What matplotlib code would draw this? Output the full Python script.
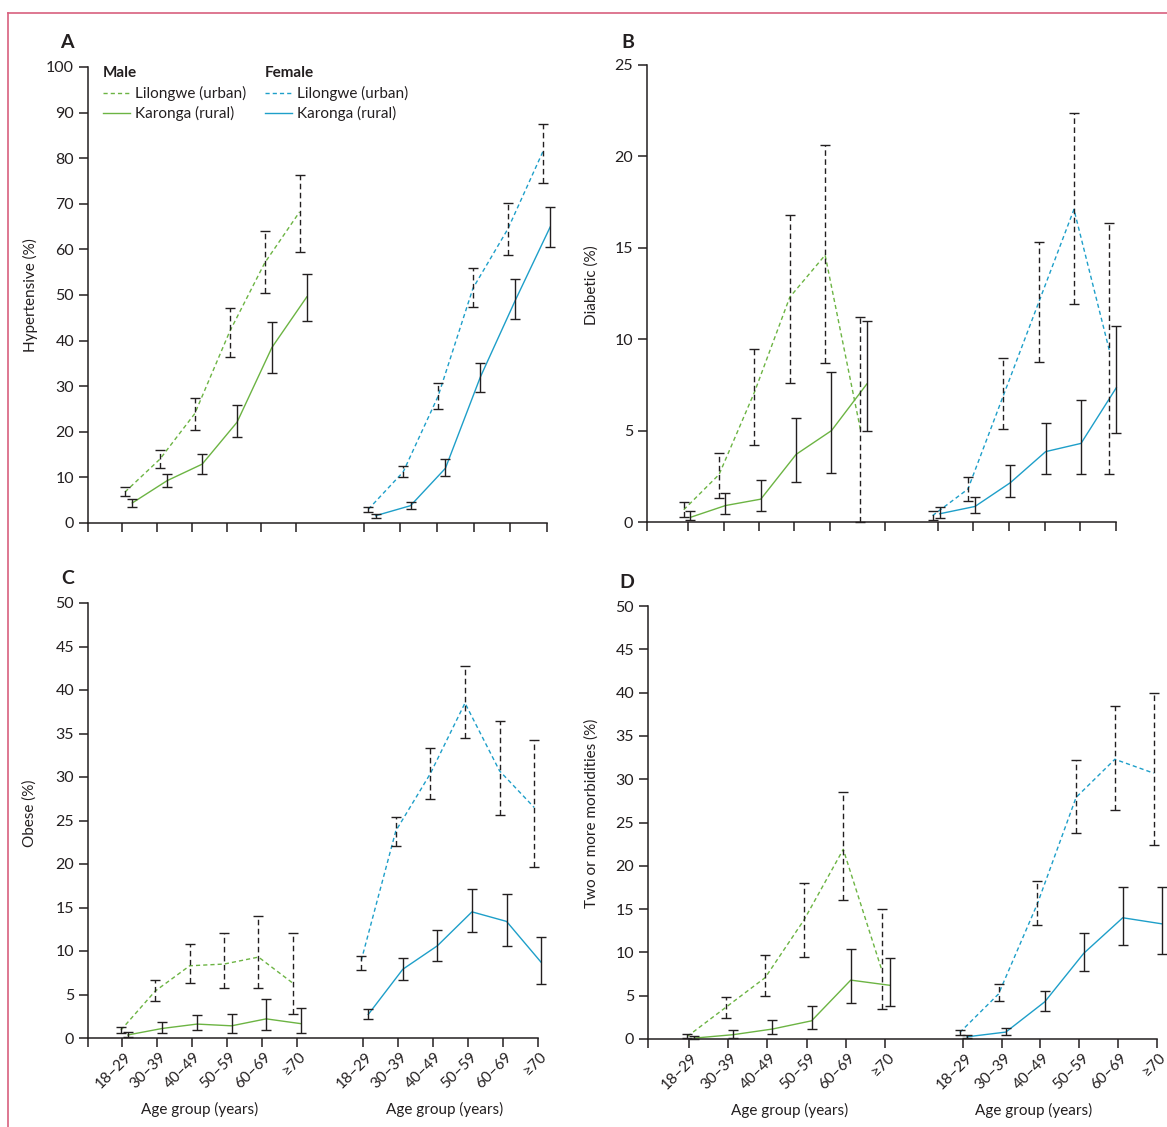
import numpy as np
import matplotlib
matplotlib.use('Agg')
import matplotlib.pyplot as plt
from matplotlib.lines import Line2D
from matplotlib.transforms import ScaledTranslation, blended_transform_factory

plt.rcParams['font.family'] = ['Lato', 'DejaVu Sans']
plt.rcParams['font.size'] = 11

#
# Age groups and colours.
#
age_groups = ['18\u201329', '30\u201339', '40\u201349', '50\u201359', '60\u201369', '\u226570']
green = '#6cb443'
blue = '#1e9fc9'
ink = '#231f20'

#
# Panel A: hypertensive (%). Estimate, then (lower, upper) CI.
#
hyp_m_urb = [6.8, 14.0, 24.0, 42.0, 57.0, 68.2]
hyp_m_urb_ci = [(5.9, 8.0), (12.1, 15.9), (20.5, 27.4), (36.3, 47.2), (50.5, 64.1), (59.4, 76.3)]
hyp_m_rur = [4.4, 9.3, 12.9, 22.1, 38.5, 49.6]
hyp_m_rur_ci = [(3.5, 5.3), (7.9, 10.8), (10.8, 15.2), (18.9, 25.8), (33.0, 44.1), (44.4, 54.5)]
hyp_f_urb = [3.0, 11.2, 27.8, 51.5, 64.5, 81.4]
hyp_f_urb_ci = [(2.4, 3.4), (10.1, 12.5), (25.1, 30.6), (47.4, 55.9), (58.8, 70.1), (74.6, 87.4)]
hyp_f_rur = [1.6, 3.8, 12.0, 32.0, 48.8, 64.9]
hyp_f_rur_ci = [(1.2, 2.0), (3.0, 4.6), (10.3, 14.0), (28.7, 35.1), (44.7, 53.5), (60.5, 69.3)]

#
# Panel B: diabetic (%).
#
dia_m_urb = [0.67, 2.6, 7.1, 12.3, 14.6, 5.05]
dia_m_urb_ci = [(0.3, 1.08), (1.3, 3.77), (4.2, 9.46), (7.6, 16.8), (8.7, 20.6), (0.0, 11.2)]
dia_m_rur = [0.25, 0.9, 1.25, 3.7, 5.0, 7.55]
dia_m_rur_ci = [(0.13, 0.62), (0.45, 1.6), (0.6, 2.28), (2.2, 5.7), (2.7, 8.2), (5.0, 11.0)]
dia_f_urb = [0.35, 1.8, 6.9, 12.0, 17.1, 9.4]
dia_f_urb_ci = [(0.13, 0.58), (1.15, 2.44), (5.1, 8.95), (8.73, 15.3), (11.9, 22.35), (2.63, 16.36)]
dia_f_rur = [0.45, 0.85, 2.15, 3.85, 4.3, 7.35]
dia_f_rur_ci = [(0.22, 0.8), (0.5, 1.37), (1.37, 3.14), (2.6, 5.42), (2.63, 6.67), (4.85, 10.7)]

#
# Panel C: obese (%).
#
obe_m_urb = [0.9, 5.4, 8.3, 8.5, 9.3, 6.3]
obe_m_urb_ci = [(0.58, 1.23), (4.2, 6.7), (6.3, 10.8), (5.7, 12.06), (5.76, 14.0), (2.8, 12.1)]
obe_m_rur = [0.35, 1.1, 1.6, 1.4, 2.2, 1.65]
obe_m_rur_ci = [(0.12, 0.7), (0.62, 1.85), (0.9, 2.67), (0.62, 2.8), (0.9, 4.5), (0.62, 3.46)]
obe_f_urb = [8.9, 23.8, 30.4, 38.5, 30.7, 26.5]
obe_f_urb_ci = [(7.8, 9.47), (22.1, 25.4), (27.5, 33.3), (34.5, 42.8), (25.6, 36.4), (19.7, 34.3)]
obe_f_rur = [2.7, 7.9, 10.6, 14.5, 13.4, 8.7]
obe_f_rur_ci = [(2.14, 3.37), (6.7, 9.2), (8.9, 12.4), (12.2, 17.1), (10.6, 16.6), (6.25, 11.6)]

#
# Panel D: two or more morbidities (%).
#
two_m_urb = [0.3, 3.7, 7.1, 13.8, 21.9, 7.8]
two_m_urb_ci = [(0.08, 0.62), (2.44, 4.88), (4.96, 9.7), (9.5, 18.06), (16.1, 28.55), (3.5, 15.0)]
two_m_rur = [0.1, 0.5, 1.15, 2.1, 6.8, 6.2]
two_m_rur_ci = [(0.04, 0.33), (0.17, 1.07), (0.58, 2.15), (1.1, 3.76), (4.17, 10.4), (3.84, 9.38)]
two_f_urb = [0.75, 5.2, 15.6, 27.9, 32.3, 30.7]
two_f_urb_ci = [(0.5, 1.03), (4.38, 6.3), (13.2, 18.2), (23.8, 32.2), (26.5, 38.5), (22.4, 40.0)]
two_f_rur = [0.25, 0.8, 4.3, 9.9, 14.0, 13.3]
two_f_rur_ci = [(0.08, 0.5), (0.41, 1.32), (3.18, 5.6), (7.85, 12.2), (10.8, 17.5), (9.8, 17.5)]


W, H = 1167, 1127
fig = plt.figure(figsize=(W / 100, H / 100), dpi=100)


def px_axes(x0, x1, y0, y1):
    """Axes from pixel box (left, right, top, bottom)."""
    return fig.add_axes([x0 / W, 1 - y1 / H, (x1 - x0) / W, (y1 - y0) / H])


def ci_err(est, ci):
    lo = [e - c[0] for e, c in zip(est, ci)]
    hi = [c[1] - e for e, c in zip(est, ci)]
    return [lo, hi]


def draw_series(ax, x, est, ci, colour, urban):
    ls = (0, (3, 2.2)) if urban else '-'
    ax.plot(x, est, color=colour, lw=1.0, ls=ls, zorder=2, clip_on=False)
    bars = ax.errorbar(x, est, yerr=ci_err(est, ci), fmt='none', ecolor=ink,
                       elinewidth=1.0, capsize=3.6, capthick=1.0, zorder=3, clip_on=False)
    for b in bars[1]:
        b.set_clip_on(False)
    for b in bars[2]:
        b.set_clip_on(False)
        if urban:
            b.set_linestyle((0, (4, 2.5)))


def setup(ax, ymax, ystep, ticks, xmax, labels):
    ax.set_xlim(0, xmax)
    ax.set_ylim(0, ymax)
    ax.set_yticks(np.arange(0, ymax + 0.1, ystep))
    for s in ['top', 'right']:
        ax.spines[s].set_visible(False)
    for s in ['left', 'bottom']:
        ax.spines[s].set_linewidth(1.1)
        ax.spines[s].set_color(ink)
    ax.tick_params(length=6.5, width=1.1, color=ink, labelcolor=ink, labelsize=11.5)
    ax.set_xticks([0] + list(ticks))
    if labels:
        ax.set_xticklabels([''] + age_groups * 2, rotation=45, ha='right',
                           va='center', rotation_mode='anchor', fontsize=11)
        offset = ScaledTranslation(5 / 72, -2 / 72, fig.dpi_scale_trans)
        for lab in ax.get_xticklabels():
            lab.set_transform(lab.get_transform() + offset)
    else:
        ax.set_xticklabels([])


k = np.arange(6)
panels = [
    # axes pixel box, ymax, step, male/female data, positions, tick positions, xmax, ylabel
    dict(box=(88, 547, 67, 523), ymax=100, step=10,
         data=(hyp_m_urb, hyp_m_urb_ci, hyp_m_rur, hyp_m_rur_ci,
               hyp_f_urb, hyp_f_urb_ci, hyp_f_rur, hyp_f_rur_ci),
         pos=(1.06 + k, 1.27 + k, 8.03 + k, 8.24 + k),
         ticks=np.r_[0.97 + k, 7.9 + 1.05 * k], xmax=13.14,
         ylabel='Hypertensive (%)', yl=(30, 295), letter='A', lt=(67, 42), xl=None),
    dict(box=(647, 1116, 65, 522), ymax=25, step=5,
         data=(dia_m_urb, dia_m_urb_ci, dia_m_rur, dia_m_rur_ci,
               dia_f_urb, dia_f_urb_ci, dia_f_rur, dia_f_rur_ci),
         pos=(1.04 + k, 1.22 + k, 8.08 + k, 8.28 + k),
         ticks=np.r_[[1.17, 2.17, 3.17, 4.17, 5.17, 6.72], 8.22 + 1.01 * k], xmax=13.26,
         ylabel='Diabetic (%)', yl=(592, 285), letter='B', lt=(628, 42), xl=None),
    dict(box=(88, 538, 603, 1038), ymax=50, step=5,
         data=(obe_m_urb, obe_m_urb_ci, obe_m_rur, obe_m_rur_ci,
               obe_f_urb, obe_f_urb_ci, obe_f_rur, obe_f_rur_ci),
         pos=(0.94 + 0.985 * k, 1.14 + 0.99 * k, 7.82 + 0.99 * k, 8.02 + 0.99 * k),
         ticks=np.r_[0.97 + k, 7.87 + k], xmax=12.88,
         ylabel='Obese (%)', yl=(30, 813), letter='C', lt=(68, 578), xl=(3.2, 10.2)),
    dict(box=(648, 1157, 606, 1039), ymax=50, step=5,
         data=(two_m_urb, two_m_urb_ci, two_m_rur, two_m_rur_ci,
               two_f_urb, two_f_urb_ci, two_f_rur, two_f_rur_ci),
         pos=(1.0 + 0.99 * k, 1.17 + 0.995 * k, 7.92 + 0.985 * k, 8.1 + 0.99 * k),
         ticks=np.r_[1.03 + k, 8.0 + 0.985 * k], xmax=12.93,
         ylabel='Two or more morbidities (%)', yl=(592, 813), letter='D', lt=(627, 582),
         xl=(3.6, 9.8)),
]

for p in panels:
    ax = px_axes(*p['box'])
    setup(ax, p['ymax'], p['step'], p['ticks'], p['xmax'], p['xl'] is not None)
    mu, muc, mr, mrc, fu, fuc, fr, frc = p['data']
    xu, xr, xfu, xfr = p['pos']
    draw_series(ax, xu, mu, muc, green, True)
    draw_series(ax, xr, mr, mrc, green, False)
    draw_series(ax, xfu, fu, fuc, blue, True)
    draw_series(ax, xfr, fr, frc, blue, False)
    fig.text(p['yl'][0] / W, 1 - p['yl'][1] / H, p['ylabel'], rotation=90,
             ha='center', va='center', fontsize=11, color=ink)
    fig.text(p['lt'][0] / W, 1 - p['lt'][1] / H, p['letter'], ha='center', va='center',
             fontsize=14, fontweight='bold', color=ink)
    if p['xl'] is not None:
        tr = blended_transform_factory(ax.transData, ax.transAxes)
        for xc in p['xl']:
            ax.text(xc, -0.165, 'Age group (years)', transform=tr, ha='center',
                    va='center', fontsize=11, color=ink)
    if p['letter'] == 'A':
        # legend, drawn by hand in axes fraction
        t = ax.transAxes
        for x0, title, colour in [(0.033, 'Male', green), (0.386, 'Female', blue)]:
            ax.text(x0, 0.987, title, transform=t, fontweight='bold', fontsize=11,
                    va='center', ha='left', color=ink)
            ax.add_line(Line2D([x0, x0 + 0.059], [0.943, 0.943], transform=t,
                               color=colour, lw=1.0, ls=(0, (3, 2.2))))
            ax.add_line(Line2D([x0, x0 + 0.059], [0.899, 0.899], transform=t,
                               color=colour, lw=1.0))
            ax.text(x0 + 0.069, 0.943, 'Lilongwe (urban)', transform=t, fontsize=11,
                    va='center', ha='left', color=ink)
            ax.text(x0 + 0.069, 0.899, 'Karonga (rural)', transform=t, fontsize=11,
                    va='center', ha='left', color=ink)

# pink frame on the left and top
pink = '#d8607e'
fig.add_artist(Line2D([8 / W, 8 / W], [0, 1 - 13 / H], color=pink, lw=1.2))
fig.add_artist(Line2D([8 / W, 1], [1 - 13 / H, 1 - 13 / H], color=pink, lw=1.2))

fig.savefig('out.png', dpi=100)
